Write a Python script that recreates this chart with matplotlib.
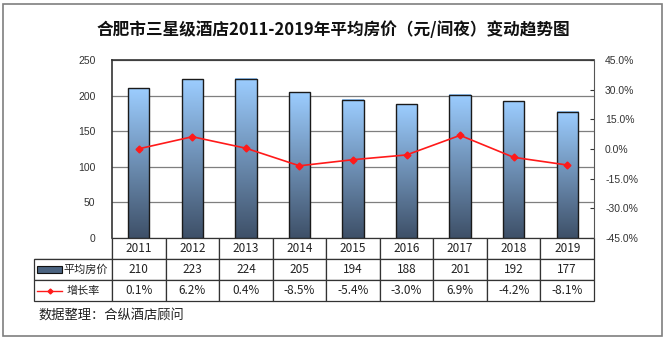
import numpy as np
import matplotlib.pyplot as plt
from matplotlib.colors import LinearSegmentedColormap
from matplotlib.patches import Rectangle
from matplotlib.lines import Line2D

years = ['2011', '2012', '2013', '2014', '2015', '2016', '2017', '2018', '2019']
price = [210, 223, 224, 205, 194, 188, 201, 192, 177]
growth = [0.1, 6.2, 0.4, -8.5, -5.4, -3.0, 6.9, -4.2, -8.1]
price_label = '平均房价'
growth_label = '增长率'
title = '合肥市三星级酒店2011-2019年平均房价（元/间夜）变动趋势图'
source = '数据整理：合纵酒店顾问'

cjk = ['Noto Sans CJK SC', 'DejaVu Sans']
plt.rcParams['font.family'] = ['Liberation Sans', 'Noto Sans CJK SC', 'DejaVu Sans']

fig = plt.figure(figsize=(6.66, 3.39), dpi=100)
W, H = 666, 339
ax = fig.add_axes([112 / W, 1 - 238 / H, 482 / W, 178 / H])
ax2 = ax.twinx()

x = np.arange(len(years))
cmap = LinearSegmentedColormap.from_list('bar', ['#3e5068', '#9ccdff'])
grad = np.linspace(0, 1, 256).reshape(-1, 1)

bars = ax.bar(x, price, width=0.4, color='none', edgecolor='#1a1a1a', linewidth=1.0, zorder=3)
for b in bars:
    ax.imshow(grad, cmap=cmap, origin='lower', aspect='auto', zorder=2,
              extent=[b.get_x(), b.get_x() + b.get_width(), 0, b.get_height()])

ax.set_xlim(-0.5, len(years) - 0.5)
ax.set_ylim(0, 250)
ax.set_yticks(range(0, 251, 50))
ax.yaxis.grid(True, color='#7f7f7f', linewidth=0.9, zorder=0)
ax.set_axisbelow(True)
ax.set_xticks([])
ax.tick_params(axis='y', length=0, labelsize=7.5, colors='#333333', pad=12)
for s in ['left', 'top']:
    ax.spines[s].set_color('#333333')
    ax.spines[s].set_linewidth(1.2)
ax.spines['bottom'].set_visible(False)
ax.spines['right'].set_visible(False)

ax2.plot(x, growth, color='#ff1a1a', marker='D', markersize=3.5, linewidth=1.2, zorder=5)
ax2.set_ylim(-45, 45)
ax2.set_yticks(np.arange(-45, 46, 15))
ax2.set_yticklabels([f'{v:.1f}%' for v in np.arange(-45, 46, 15)])
ax2.tick_params(axis='y', direction='in', length=3, labelsize=7.5, colors='#333333', pad=8)
for s in ['left', 'top', 'bottom']:
    ax2.spines[s].set_visible(False)
ax2.spines['right'].set_color('#555555')

# data table below the plot
head = 78 / 482
col = [head] + [1 / 9] * 9
cells = [[''] + years,
         [''] + [str(v) for v in price],
         [''] + [f'{v:.1f}%' for v in growth]]
row_h = 21 / 178
tbl = ax.table(cellText=cells, colWidths=col, cellLoc='center',
               bbox=[-head, -3 * row_h, 1 + head, 3 * row_h])
tbl.auto_set_font_size(False)
for (r, c), cell in tbl.get_celld().items():
    cell.set_edgecolor('#333333')
    cell.set_linewidth(0.9)
    cell.get_text().set_fontsize(8.5)
    cell.get_text().set_fontfamily(cjk)
    cell.get_text().set_color('#222222')
    if r == 0 and c == 0:
        cell.visible_edges = 'BR'

y1 = -1.5 * row_h
y2 = -2.5 * row_h
ax.add_patch(Rectangle((-head + 0.006, y1 - 0.02), 0.052, 0.04, transform=ax.transAxes,
                       facecolor='#4b6380', edgecolor='#111111', linewidth=0.8, clip_on=False))
ax.add_line(Line2D([-head + 0.007, -head + 0.058], [y2, y2], transform=ax.transAxes,
                   color='#ff1a1a', linewidth=1.0, clip_on=False))
ax.add_line(Line2D([-head + 0.033], [y2], transform=ax.transAxes, color='#ff1a1a',
                   marker='D', markersize=2.5, clip_on=False))
ax.text(-head + 0.061, y1, price_label, transform=ax.transAxes, va='center', ha='left',
        fontsize=8, family=cjk, color='#222222')
ax.text(-head + 0.068, y2, growth_label, transform=ax.transAxes, va='center', ha='left',
        fontsize=8, family=cjk, color='#222222')

fig.text(0.5, 1 - 30 / H, title, ha='center', va='center', fontsize=12,
         fontweight='bold', family=cjk, color='#111111')
fig.text(38 / W, 1 - 315 / H, source, ha='left', va='center', fontsize=9.5,
         family=cjk, color='#222222')

fig.add_artist(Rectangle((3 / W, 3 / H), 659 / W, 332 / H, transform=fig.transFigure,
                         facecolor='none', edgecolor='#7f7f7f', linewidth=1.2))

fig.savefig('out.png', dpi=100)
